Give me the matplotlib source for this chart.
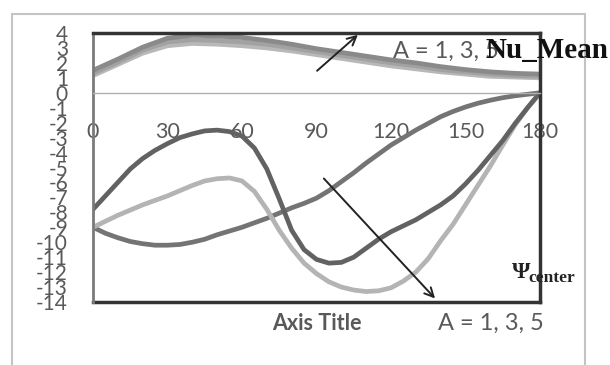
import numpy as np
import matplotlib
matplotlib.use("Agg")
import matplotlib.pyplot as plt
from matplotlib.lines import Line2D
from matplotlib.patches import Rectangle

plt.rcParams['axes.unicode_minus'] = False

# --- data -------------------------------------------------------------
# Nu_Mean for A = 1, 3, 5 (top band)
nu_angle = list(range(0, 181, 10))
nu_a1 = [1.5, 2.25, 3.05, 3.65, 3.85, 3.8, 3.7, 3.5, 3.25, 2.95,
         2.7, 2.45, 2.2, 2.0, 1.75, 1.55, 1.4, 1.3, 1.25]
nu_a3 = [1.3, 2.05, 2.85, 3.4, 3.55, 3.5, 3.4, 3.25, 3.0, 2.75,
         2.5, 2.25, 2.0, 1.8, 1.55, 1.4, 1.25, 1.15, 1.1]
nu_a5 = [1.15, 1.9, 2.65, 3.15, 3.3, 3.25, 3.15, 3.0, 2.8, 2.55,
         2.3, 2.05, 1.8, 1.6, 1.4, 1.25, 1.1, 1.05, 1.0]

# Psi_center for A = 1, 3, 5
psi_angle = list(range(0, 181, 5))
psi_a1 = [-9.0, -9.4, -9.7, -9.95, -10.1, -10.2, -10.2, -10.15, -10.0, -9.8,
          -9.5, -9.25, -9.0, -8.7, -8.4, -8.05, -7.7, -7.4, -7.05, -6.55,
          -5.95, -5.35, -4.7, -4.1, -3.5, -3.0, -2.5, -2.05, -1.6, -1.25,
          -0.95, -0.7, -0.5, -0.33, -0.2, -0.1, 0.0]
psi_a3 = [-7.8, -6.9, -6.0, -5.1, -4.4, -3.85, -3.4, -3.0, -2.75, -2.55,
          -2.5, -2.6, -2.9, -3.7, -5.1, -7.1, -9.2, -10.5, -11.15, -11.4,
          -11.35, -11.0, -10.4, -9.8, -9.3, -8.9, -8.5, -8.0, -7.5, -6.9,
          -6.1, -5.2, -4.2, -3.2, -2.05, -1.0, 0.0]
psi_a5 = [-9.0, -8.6, -8.2, -7.85, -7.5, -7.2, -6.9, -6.55, -6.2, -5.9,
          -5.75, -5.7, -5.9, -6.6, -7.8, -9.2, -10.4, -11.4, -12.1, -12.65,
          -13.0, -13.2, -13.3, -13.25, -13.05, -12.6, -12.0, -11.1, -9.9, -8.8,
          -7.5, -6.2, -4.9, -3.5, -2.15, -1.0, 0.0]

x_ticks = [0, 30, 60, 90, 120, 150, 180]
y_ticks = list(range(-14, 5))

# --- figure -----------------------------------------------------------
FONT = ['Lato', 'DejaVu Sans']
SERIF = ['Liberation Serif', 'DejaVu Serif']
GREY_TXT = '#595959'

fig = plt.figure(figsize=(6.1, 3.65), dpi=100)
fig.patch.set_facecolor('white')

# outer chart border
fig.add_artist(Rectangle((12 / 610, -0.05), 573 / 610, 1.03 - 7 / 365,
                         transform=fig.transFigure, fill=False,
                         edgecolor='#c4c4c4', lw=1.5))

ax = fig.add_axes([93 / 610, 1 - 302 / 365, 447 / 610, 269 / 365])
ax.set_xlim(0, 180)
ax.set_ylim(-14, 4)

line_kw = dict(lw=3.4, solid_capstyle='round', solid_joinstyle='round')

# Nu_Mean band
ax.plot(nu_angle, nu_a5, color='#b8b8b8', **line_kw)
ax.plot(nu_angle, nu_a3, color='#a2a2a2', **line_kw)
ax.plot(nu_angle, nu_a1, color='#8a8a8a', **line_kw)

# Psi_center curves
ax.plot(psi_angle, psi_a1, color='#747474', **line_kw)
ax.plot(psi_angle, psi_a5, color='#b4b4b4', **line_kw)
ax.plot(psi_angle, psi_a3, color='#626262', **line_kw)

# y = 0 is the category axis, frame drawn separately
ax.spines['bottom'].set_position(('data', 0))
ax.spines['bottom'].set_color('#b0b0b0')
ax.spines['bottom'].set_linewidth(1)
ax.spines['left'].set_color('#7a7a7a')
ax.spines['left'].set_linewidth(2)
for side in ('top', 'right'):
    ax.spines[side].set_color('#333333')
    ax.spines[side].set_linewidth(2.5)
ax.add_line(Line2D([0, 1], [0, 0], transform=ax.transAxes, color='#333333',
                   lw=2.5, clip_on=False))

ax.set_xticks(x_ticks)
ax.set_xticklabels([str(v) for v in x_ticks])
ax.set_yticks(y_ticks)
ax.set_yticklabels([str(v) for v in y_ticks])
ax.tick_params(axis='x', length=0, pad=21, labelsize=15.5, labelcolor=GREY_TXT)
ax.tick_params(axis='y', length=0, pad=18, labelsize=15, labelcolor=GREY_TXT)
for lab in ax.get_xticklabels() + ax.get_yticklabels():
    lab.set_family(FONT)

# trend arrows
ax.annotate('', xy=(107.5, 4.0), xytext=(89.4, 1.35),
            arrowprops=dict(arrowstyle='->', color='#222222', lw=1.4,
                            mutation_scale=16), annotation_clip=False)
ax.annotate('', xy=(138.5, -13.9), xytext=(92.2, -5.6),
            arrowprops=dict(arrowstyle='->', color='#222222', lw=1.4,
                            mutation_scale=16), annotation_clip=False)

# annotations
fig.text(393 / 610, 1 - 58 / 365, 'A = 1, 3, 5', family=FONT, fontsize=17,
         color=GREY_TXT, va='baseline')
fig.text(485 / 610, 1 - 58 / 365, 'Nu_Mean', family=SERIF, fontsize=21,
         fontweight='bold', color='#111111', va='baseline')
fig.text(512 / 610, 1 - 272 / 365, 'Ψ', family=SERIF, fontsize=17,
         fontweight='bold', color='#222222', va='center')
fig.text(528 / 610, 1 - 278 / 365, 'center', family=SERIF, fontsize=12.5,
         fontweight='bold', color='#222222', va='center')
fig.text(272 / 610, 1 - 323 / 365, 'Axis Title', family=FONT, fontsize=15.5,
         fontweight='bold', color=GREY_TXT, va='center')
fig.text(438 / 610, 1 - 323 / 365, 'A = 1, 3, 5', family=FONT, fontsize=17,
         color=GREY_TXT, va='center')

fig.savefig('out.png', dpi=100)
